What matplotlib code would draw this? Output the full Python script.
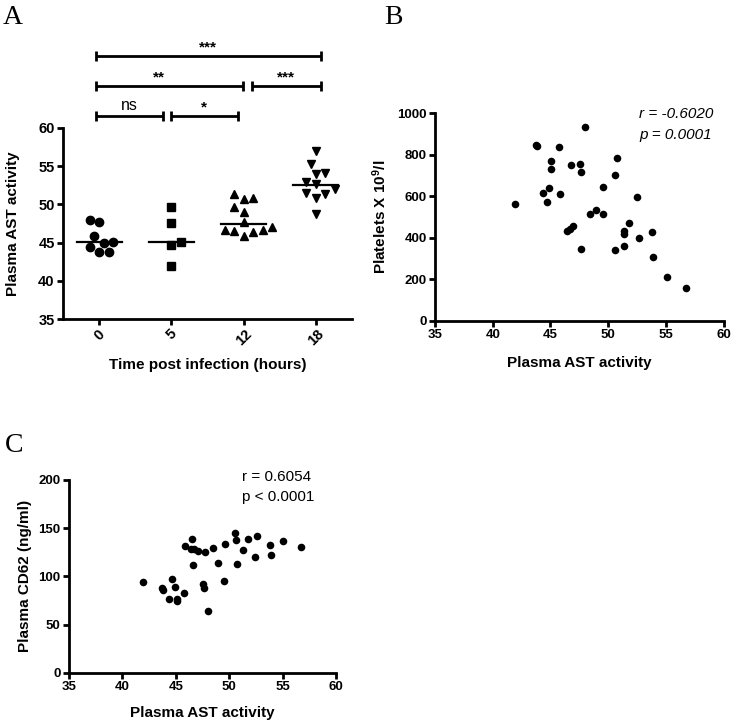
import matplotlib
matplotlib.use('Agg')
import matplotlib.pyplot as plt
import numpy as np

plt.rcParams['font.family'] = ['Liberation Sans', 'DejaVu Sans']
plt.rcParams['font.weight'] = 'bold'
plt.rcParams['mathtext.fontset'] = 'custom'
plt.rcParams['mathtext.bf'] = 'Liberation Sans:bold'
plt.rcParams['mathtext.rm'] = 'Liberation Sans'
plt.rcParams['mathtext.it'] = 'Liberation Sans:italic'

# ---------------- Panel A data ----------------
time_labels = ['0', '5', '12', '18']
ast_0h = [45.1, 47.7, 48.0, 45.9, 44.4, 43.8, 43.8, 45.0]
ast_5h = [49.6, 47.6, 45.1, 44.7, 42.0]
ast_12h = [50.8, 51.3, 50.7, 49.7, 49.0, 47.7, 46.7, 46.5, 45.9, 46.4, 46.7, 47.0]
ast_18h = [57.0, 55.2, 54.0, 54.1, 52.7, 52.9, 52.0, 51.4, 50.8, 51.5, 48.7]
group_lines = [45.1, 45.1, 47.4, 52.5]
comparisons = [(0, 1, 'ns'), (1, 2, '*'), (0, 2, '**'), (2, 3, '***'), (0, 3, '***')]

# ---------------- Panel B data ----------------
b_ast = [41.95, 43.72, 43.80, 45.76, 48.01, 45.04, 45.01, 46.74, 47.52, 47.61,
         50.72, 50.63, 49.52, 44.90, 44.35, 45.82, 44.67, 48.42, 48.94, 49.57,
         46.41, 46.69, 46.98, 47.68, 51.76, 51.33, 51.39, 50.58, 51.33, 52.49,
         53.79, 52.64, 53.92, 55.09, 56.76]
b_platelets = [561, 846, 842, 838, 935, 770, 730, 749, 757, 718,
               783, 703, 643, 641, 614, 611, 571, 516, 532, 516,
               432, 444, 457, 346, 473, 432, 417, 341, 362, 598,
               426, 397, 306, 211, 159]
b_stats = ['r = -0.6020', 'p = 0.0001']

# ---------------- Panel C data ----------------
c_ast = [41.96, 43.71, 43.77, 44.67, 44.93, 44.39, 45.10, 45.10, 45.79, 46.50,
         45.86, 46.42, 46.73, 47.05, 46.64, 47.73, 47.58, 47.64, 48.01, 48.48,
         48.95, 49.60, 49.55, 50.57, 50.64, 50.73, 51.32, 51.80, 52.60, 53.82,
         55.07, 52.40, 53.91, 56.72]
c_cd62 = [94, 88, 86, 97, 89, 77, 76, 74, 83, 139,
          132, 128, 128, 126, 112, 125, 92, 88, 64, 129,
          114, 134, 95, 145, 138, 113, 127, 139, 142, 133,
          137, 120, 122, 130]
c_stats = ['r = 0.6054', 'p < 0.0001']

W, H = 733, 724
fig = plt.figure(figsize=(W / 100, H / 100), dpi=100)


def px_axes(l, t, r, b):
    return fig.add_axes([l / W, 1 - b / H, (r - l) / W, (b - t) / H])


LW = 2.0


def style(ax, fs):
    for s in ['top', 'right']:
        ax.spines[s].set_visible(False)
    for s in ['left', 'bottom']:
        ax.spines[s].set_linewidth(LW)
    ax.tick_params(width=LW, length=4.5, labelsize=fs, direction='out', pad=1.5)
    for lab in ax.get_xticklabels() + ax.get_yticklabels():
        lab.set_fontweight('bold')


def swarm_offsets(values, d_px, px_per_x, px_per_y):
    vals = np.asarray(values, float)
    placed = []
    res = np.zeros(len(vals))
    for idx in np.argsort(vals):
        yp = vals[idx] * px_per_y
        balance = sum(np.sign(px) for px, _ in placed)
        first = -1 if balance > 0 else 1
        cand = 0.0
        for k in range(60):
            cand = 0.0 if k == 0 else ((k + 1) // 2) * 0.5 * d_px * (first if k % 2 else -first)
            if all((cand - px) ** 2 + (yp - py) ** 2 >= d_px ** 2 for px, py in placed):
                break
        placed.append((cand, yp))
        res[idx] = cand / px_per_x
    return res


# ---------------- Panel A ----------------
axA = px_axes(63, 127.7, 352, 319.3)
groups = [ast_0h, ast_5h, ast_12h, ast_18h]
markers = ['o', 's', '^', 'v']
msizes = [6, 5.4, 6, 6]
px_per_x = 289 / 4
px_per_y = 191.6 / 25
for i, (g, m, ms) in enumerate(zip(groups, markers, msizes)):
    offs = swarm_offsets(g, 9.5, px_per_x, px_per_y)
    axA.plot(i + offs, g, linestyle='none', marker=m, color='black', markersize=ms)
    axA.plot([i - 0.31, i + 0.31], [group_lines[i]] * 2, color='black', lw=1.6)
axA.set_xlim(-0.5, 3.5)
axA.set_ylim(35, 60)
axA.set_yticks([35, 40, 45, 50, 55, 60])
axA.set_xticks(range(len(time_labels)))
axA.set_xticklabels(time_labels, rotation=45, ha='center')
style(axA, 10.5)
axA.tick_params(axis='x', pad=1)
axA.set_ylabel('Plasma AST activity', fontsize=11, fontweight='bold')
axA.yaxis.label.set_va('center')
axA.yaxis.set_label_coords(-0.173, 0.5)
axA.set_xlabel('Time post infection (hours)', fontsize=11, fontweight='bold')
axA.xaxis.label.set_va('center')
axA.xaxis.set_label_coords(0.5, -0.2385)

# significance brackets
row_of = {(0, 1): 0, (1, 2): 0, (0, 2): 1, (2, 3): 1, (0, 3): 2}
pads = {(0, 1): (-0.04, -0.11), (1, 2): (-0.01, -0.08), (0, 2): (-0.04, -0.01),
        (2, 3): (0.12, 0.065), (0, 3): (-0.04, 0.065)}
for i, j, lab in comparisons:
    y = 61.53 + 3.92 * row_of[(i, j)]
    x0 = i + pads[(i, j)][0]
    x1 = j + pads[(i, j)][1]
    axA.plot([x0, x1], [y, y], color='black', lw=LW, clip_on=False, solid_capstyle='butt')
    for xx in (x0, x1):
        axA.plot([xx, xx], [y - 0.65, y + 0.65], color='black', lw=LW, clip_on=False,
                 solid_capstyle='butt')
    xm = (x0 + x1) / 2 - (0.15 if lab == '**' else 0)
    if lab == 'ns':
        axA.text(xm, y + 0.45, lab, ha='center', va='bottom', fontsize=11.5,
                 fontweight='normal')
    else:
        axA.text(xm, y + 0.2, lab, ha='center', va='bottom', fontsize=11,
                 fontweight='bold')

# ---------------- Panel B ----------------
axB = px_axes(435, 113.3, 723.7, 320.7)
axB.scatter(b_ast, b_platelets, s=30, color='black', linewidths=0, clip_on=False)
axB.set_xlim(35, 60)
axB.set_ylim(0, 1000)
axB.set_xticks([35, 40, 45, 50, 55, 60])
axB.set_yticks([0, 200, 400, 600, 800, 1000])
style(axB, 9.5)
axB.set_xlabel('Plasma AST activity', fontsize=11, fontweight='bold')
axB.xaxis.label.set_va('center')
axB.xaxis.set_label_coords(0.5, -0.204)
axB.set_ylabel(r'Platelets X 10$^{\mathbf{9}}$/l', fontsize=11, fontweight='bold')
axB.yaxis.label.set_va('center')
axB.yaxis.set_label_coords(-0.19, 0.5)
axB.text(0.7066, 0.9966, b_stats[0], transform=axB.transAxes, fontsize=11,
         fontstyle='italic', fontweight='normal', ha='left', va='center')
axB.text(0.7066, 0.895, b_stats[1], transform=axB.transAxes, fontsize=11,
         fontstyle='italic', fontweight='normal', ha='left', va='center')

# ---------------- Panel C ----------------
axC = px_axes(69, 480, 336, 672.7)
axC.scatter(c_ast, c_cd62, s=30, color='black', linewidths=0, clip_on=False)
axC.set_xlim(35, 60)
axC.set_ylim(0, 200)
axC.set_xticks([35, 40, 45, 50, 55, 60])
axC.set_yticks([0, 50, 100, 150, 200])
style(axC, 9.5)
axC.set_xlabel('Plasma AST activity', fontsize=11, fontweight='bold')
axC.xaxis.label.set_va('center')
axC.xaxis.set_label_coords(0.5, -0.209)
axC.set_ylabel('Plasma CD62 (ng/ml)', fontsize=11, fontweight='bold')
axC.yaxis.label.set_va('center')
axC.yaxis.set_label_coords(-0.165, 0.5)
axC.text(0.648, 1.0156, c_stats[0], transform=axC.transAxes, fontsize=11,
         fontweight='normal', ha='left', va='center')
axC.text(0.648, 0.912, c_stats[1], transform=axC.transAxes, fontsize=11,
         fontweight='normal', ha='left', va='center')

# ---------------- Panel letters ----------------
for lab, x, y in [('A', 3, 5), ('B', 384, 5), ('C', 5, 433)]:
    fig.text(x / W, 1 - y / H, lab, family='Liberation Serif', fontweight='normal',
             fontsize=20, ha='left', va='top')

fig.savefig('out.png', dpi=100)
